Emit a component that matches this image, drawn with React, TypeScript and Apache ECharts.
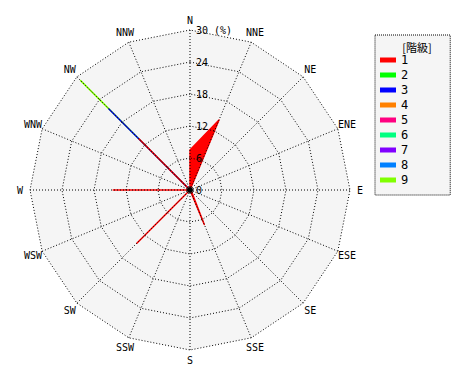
import React, { useEffect, useRef } from "react";
import * as echarts from "echarts";

// Directions in compass (clockwise) order
const directions = ["N", "NNE", "NE", "ENE", "E", "ESE", "SE", "SSE", "S", "SSW", "SW", "WSW", "W", "WNW", "NW", "NNW"];
const classNames = ["1", "2", "3", "4", "5", "6", "7", "8", "9"];
const classColors = ["#ff0000", "#00ff00", "#0000ff", "#ff8000", "#ff0080", "#00ff80", "#8000ff", "#0080ff", "#80ff00"];
const radialMax = 30;
const radialTicks = [0, 6, 12, 18, 24, 30];

// values (%) per class, compass order
const class1 = [7.5, 14.2, 0, 0, 0, 0, 0.4, 7, 0, 0, 14.1, 0, 14.4, 0, 13.5, 0];
const class2 = [0, 0, 0, 0, 0, 0, 0, 0, 0, 0, 0, 0, 0, 0, 0, 0];
const class3 = [0, 0, 0, 0, 0, 0, 0, 0, 0, 0, 0, 0, 0, 0, 21.5, 0];
const class4 = [0, 0, 0, 0, 0, 0, 0, 0, 0, 0, 0, 0, 0, 0, 0, 0];
const class5 = [0, 0, 0, 0, 0, 0, 0, 0, 0, 0, 0, 0, 0, 0, 0, 0];
const class6 = [0, 0, 0, 0, 0, 0, 0, 0, 0, 0, 0, 0, 0, 0, 0, 0];
const class7 = [0, 0, 0, 0, 0, 0, 0, 0, 0, 0, 0, 0, 0, 0, 0, 0];
const class8 = [0, 0, 0, 0, 0, 0, 0, 0, 0, 0, 0, 0, 0, 0, 0, 0];
const class9 = [0, 0, 0, 0, 0, 0, 0, 0, 0, 0, 0, 0, 0, 0, 29, 0];
const classValues = [class1, class2, class3, class4, class5, class6, class7, class8, class9];

// radar places indicators counter-clockwise; reorder N, NNW, NW, ...
const order = directions.map((_, i) => (16 - i) % 16);

export default function App() {
  const ref = useRef<HTMLDivElement>(null);
  useEffect(() => {
    if (!ref.current) return;
    const chart = echarts.init(ref.current, null, { renderer: "svg" });
    const cx = 190, cy = 190, R = 160;
    const dots = [1, 2];
    const baseIndicator = order.map((idx) => ({ name: directions[idx], min: 0, max: radialMax }));
    const topIndicator = order.map((idx, k) => {
      const ind: any = { name: directions[idx], min: 0, max: radialMax };
      if (k === 0) {
        ind.axisLabel = {
          show: true,
          showMinLabel: true,
          showMaxLabel: true,
          margin: -6,
          align: "left",
          verticalAlign: "middle",
          padding: [0, 0, 6, 0],
          fontSize: 10,
          fontFamily: "DejaVu Sans Mono",
          color: "#000",
          formatter: (v: number) => (v === radialMax ? v + " (%)" : String(v)),
        };
      }
      return ind;
    });
    const series = classValues
      .map((vals, i) => ({
        type: "radar" as const,
        name: classNames[i],
        radarIndex: 0,
        symbol: "none",
        z: 3,
        lineStyle: { color: classColors[i], width: 1.5, join: "round", cap: "round" },
        itemStyle: { color: classColors[i] },
        areaStyle: { color: classColors[i], opacity: 1 },
        data: [{ value: order.map((idx) => vals[idx]), name: classNames[i] }],
      }))
      .reverse();
    chart.setOption({
      animation: false,
      title: {
        text: "[階級]",
        left: 412,
        top: 36,
        textAlign: "center",
        textStyle: { fontSize: 11, fontWeight: "normal", fontFamily: "Noto Sans CJK JP", color: "#000" },
      },
      legend: {
        orient: "vertical",
        left: 375,
        top: 35,
        data: classNames,
        icon: "rect",
        itemWidth: 16,
        itemHeight: 5,
        itemGap: 3,
        padding: [19, 42, 9, 5],
        backgroundColor: "#f5f5f5",
        borderColor: "#000",
        borderWidth: 1,
        borderType: "dotted",
        textStyle: { fontSize: 12, lineHeight: 12, fontFamily: "DejaVu Sans Mono", color: "#000", padding: [0, 0, 0, 0] },
        itemStyle: { borderWidth: 0 },
        selectedMode: false,
      },
      polar: { center: [cx, cy], radius: R, z: 6 },
      angleAxis: {
        type: "category",
        data: directions,
        startAngle: 90,
        clockwise: true,
        boundaryGap: false,
        z: 6,
        axisLine: { show: false },
        axisTick: { show: false },
        axisLabel: { show: false },
        splitLine: { show: true, lineStyle: { color: "#000", type: dots, width: 1 } },
        splitArea: { show: false },
      },
      radiusAxis: {
        min: 0,
        max: radialMax,
        z: 6,
        axisLine: { show: false },
        axisTick: { show: false },
        axisLabel: { show: false },
        splitLine: { show: false },
      },
      radar: [
        {
          center: [cx, cy],
          radius: R,
          startAngle: 90,
          shape: "polygon",
          splitNumber: radialTicks.length - 1,
          indicator: baseIndicator,
          z: 1,
          axisName: { show: false },
          axisLine: { show: false },
          splitLine: { show: false },
          splitArea: { show: true, areaStyle: { color: ["#f5f5f5"] } },
          axisTick: { show: false },
          axisLabel: { show: false },
        },
        {
          center: [cx, cy],
          radius: R,
          startAngle: 90,
          shape: "polygon",
          splitNumber: radialTicks.length - 1,
          indicator: topIndicator,
          nameGap: 10,
          z: 6,
          axisName: {
            color: "#000",
            fontSize: 10,
            fontFamily: "DejaVu Sans Mono",
            align: "center",
            verticalAlign: "middle",
          },
          axisLine: { show: false },
          splitLine: { lineStyle: { color: "#000", type: dots, width: 1 } },
          splitArea: { show: false },
          axisTick: { show: false },
          axisLabel: { show: false },
        },
      ],
      graphic: [
        { type: "circle", shape: { cx, cy, r: 3 }, style: { fill: "#000" }, z: 100 },
      ],
      series,
    });
    return () => chart.dispose();
  }, []);
  return <div ref={ref} style={{ position: "absolute", left: 0, top: 0, width: 470, height: 380 }} />;
}
